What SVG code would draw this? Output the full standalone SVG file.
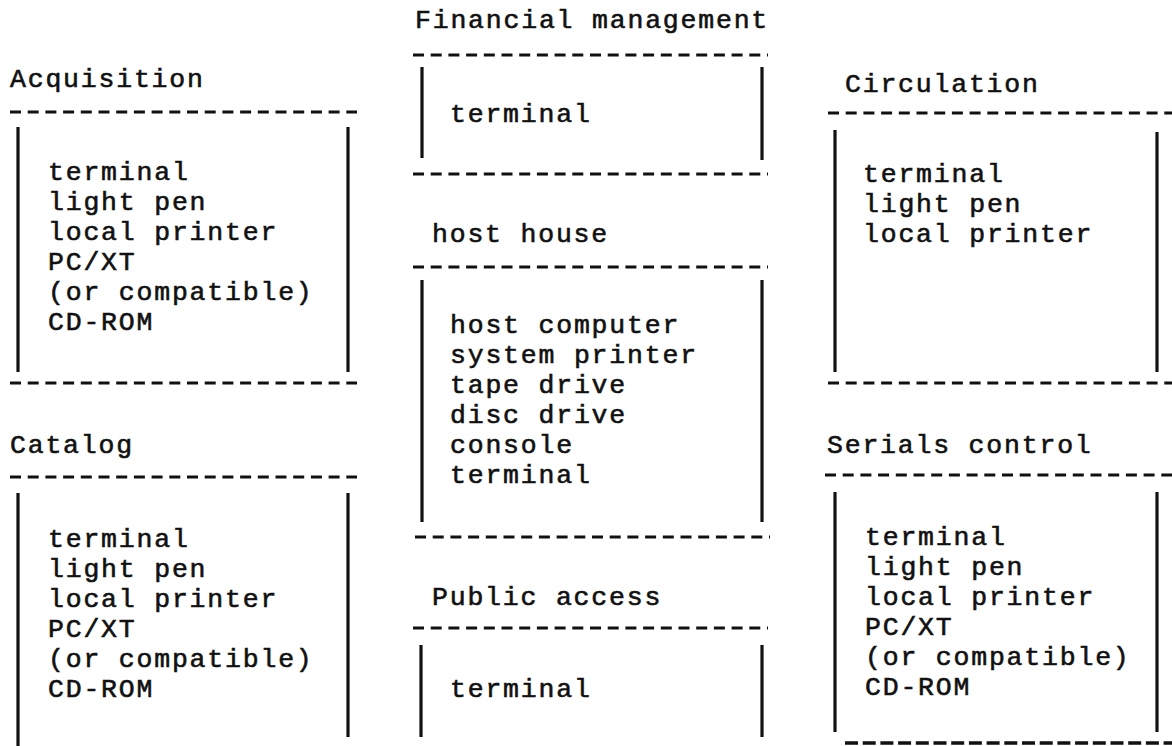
<svg xmlns="http://www.w3.org/2000/svg" width="1172" height="746" viewBox="0 0 1172 746">
<style>
text{font-family:"Liberation Mono","DejaVu Sans Mono",monospace;font-size:26.5px;letter-spacing:1.8px;fill:#111;stroke:#111;stroke-width:0.6px}
.d{stroke:#111;stroke-width:2.8;stroke-dasharray:11 6.7;fill:none}
.b{stroke:#111;stroke-width:3.2;fill:none}
.h{stroke:#111;stroke-width:3.4;stroke-dasharray:13 4.7;fill:none}
</style>
<rect width="1172" height="746" fill="#fff"/>
<g id="acquisition">
<text x="10" y="87">Acquisition</text>
<line class="d" x1="10" y1="112" x2="357" y2="112"/>
<line class="b" x1="18" y1="127" x2="18" y2="372"/>
<line class="b" x1="348" y1="127" x2="348" y2="372"/>
<text x="48" y="180">terminal</text>
<text x="48" y="210">light pen</text>
<text x="48" y="240">local printer</text>
<text x="48" y="270">PC/XT</text>
<text x="48" y="300">(or compatible)</text>
<text x="48" y="330">CD-ROM</text>
<line class="d" x1="10" y1="383" x2="357" y2="383"/>
</g>
<g id="catalog">
<text x="10" y="453">Catalog</text>
<line class="d" x1="10" y1="477" x2="357" y2="477"/>
<line class="b" x1="18" y1="493" x2="18" y2="746"/>
<line class="b" x1="348" y1="493" x2="348" y2="737"/>
<text x="48" y="547">terminal</text>
<text x="48" y="577">light pen</text>
<text x="48" y="607">local printer</text>
<text x="48" y="637">PC/XT</text>
<text x="48" y="667">(or compatible)</text>
<text x="48" y="697">CD-ROM</text>
</g>
<g id="financial-management">
<text x="415" y="28">Financial management</text>
<line class="d" x1="413" y1="55" x2="768" y2="55"/>
<line class="b" x1="422" y1="67" x2="422" y2="158"/>
<line class="b" x1="762" y1="67" x2="762" y2="160"/>
<text x="450" y="122">terminal</text>
<line class="d" x1="413" y1="174" x2="768" y2="174"/>
</g>
<g id="host-house">
<text x="432" y="242">host house</text>
<line class="d" x1="413" y1="267" x2="768" y2="267"/>
<line class="b" x1="422" y1="280" x2="422" y2="522"/>
<line class="b" x1="762" y1="280" x2="762" y2="522"/>
<text x="450" y="333">host computer</text>
<text x="450" y="363">system printer</text>
<text x="450" y="393">tape drive</text>
<text x="450" y="423">disc drive</text>
<text x="450" y="453">console</text>
<text x="450" y="483">terminal</text>
<line class="d" x1="415" y1="537" x2="770" y2="537"/>
</g>
<g id="public-access">
<text x="432" y="605">Public access</text>
<line class="d" x1="413" y1="628" x2="768" y2="628"/>
<line class="b" x1="421" y1="645" x2="421" y2="737"/>
<line class="b" x1="762" y1="645" x2="762" y2="737"/>
<text x="450" y="697">terminal</text>
</g>
<g id="circulation">
<text x="845" y="92">Circulation</text>
<line class="d" x1="828" y1="113" x2="1172" y2="113"/>
<line class="b" x1="835" y1="130" x2="835" y2="372"/>
<line class="b" x1="1157" y1="132" x2="1157" y2="372"/>
<text x="863" y="182">terminal</text>
<text x="863" y="212">light pen</text>
<text x="863" y="242">local printer</text>
<line class="d" x1="828" y1="383" x2="1172" y2="383"/>
</g>
<g id="serials-control">
<text x="827" y="453">Serials control</text>
<line class="d" x1="825" y1="475" x2="1172" y2="475"/>
<line class="b" x1="835" y1="492" x2="835" y2="732"/>
<line class="b" x1="1157" y1="492" x2="1157" y2="732"/>
<text x="865" y="545">terminal</text>
<text x="865" y="575">light pen</text>
<text x="865" y="605">local printer</text>
<text x="865" y="635">PC/XT</text>
<text x="865" y="665">(or compatible)</text>
<text x="865" y="695">CD-ROM</text>
<line class="h" x1="845" y1="743" x2="1172" y2="743"/>
</g>
</svg>
